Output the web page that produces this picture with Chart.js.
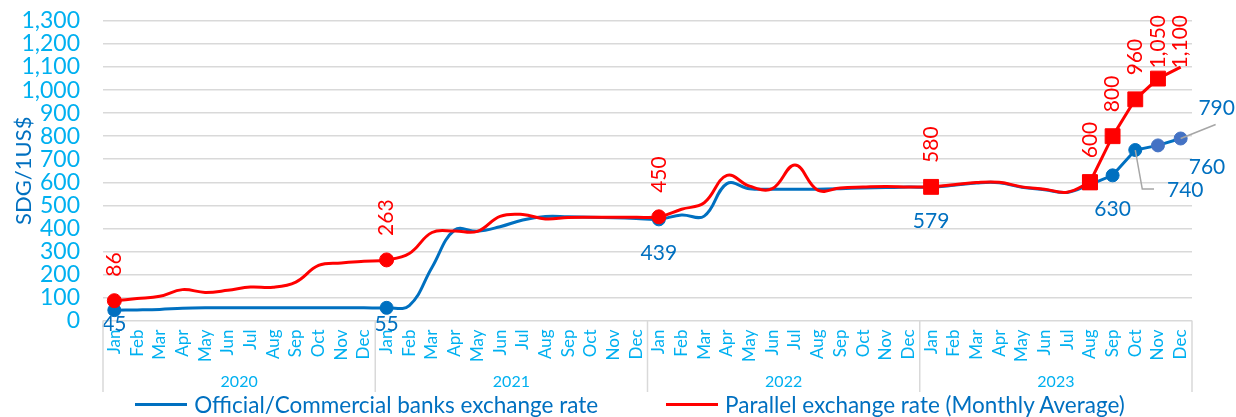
<!DOCTYPE html>
<html>
<head>
<meta charset="utf-8">
<script src="https://cdn.jsdelivr.net/npm/chart.js@4.4.1/dist/chart.umd.min.js"></script>
<style>
  html, body { margin: 0; padding: 0; background: #fff; }
  #wrap { width: 1236px; height: 417px; position: relative; }
  #legend {
    position: absolute; left: 0; top: 392px; width: 1236px; height: 25px;
    display: flex; justify-content: center; align-items: center;
    font-family: Lato, sans-serif; font-size: 22.5px; color: #0070C0;
    padding-left: 24px; box-sizing: border-box;
  }
  .lg-item { display: flex; align-items: center; margin: 0 34px; white-space: nowrap; }
  .lg-line { width: 52px; height: 3px; margin-right: 7px; }
</style>
</head>
<body>
<div id="wrap">
  <canvas id="fxChart" width="1236" height="392"></canvas>
  <div id="legend"></div>
</div>
<script>
/* ── Data ───────────────────────────────────────────────────── */

const years  = ["2020", "2021", "2022", "2023"];
const months = ["Jan", "Feb", "Mar", "Apr", "May", "Jun", "Jul", "Aug", "Sep", "Oct", "Nov", "Dec"];
const yTicks = [0, 100, 200, 300, 400, 500, 600, 700, 800, 900, 1000, 1100, 1200, 1300];

const seriesNames = ["Official/Commercial banks exchange rate", "Parallel exchange rate (Monthly Average)"];

// SDG per 1 US$, Jan 2020 .. Dec 2023
const official = [
  45, 46, 48, 53, 55, 55, 55, 55, 55, 55, 55, 55,
  55, 65, 230, 393, 387, 407, 436, 451, 450, 448, 446, 443,
  439, 458, 453, 594, 572, 570, 570, 570, 572, 575, 577, 579,
  579, 587, 597, 598, 578, 568, 556, 590, 630, 740, 760, 790,
];
const parallel = [
  86, 95, 105, 134, 122, 131, 145, 144, 167, 239, 250, 257,
  263, 291, 382, 388, 387, 452, 460, 441, 447, 448, 448, 448,
  450, 483, 511, 630, 583, 572, 675, 566, 575, 579, 582, 580,
  580, 589, 599, 600, 580, 570, 557, 600, 800, 960, 1050, 1100,
];

// month index where the smoothed line stops and the straight segment starts
const straightFrom = 43;

const officialMarked  = [0, 12, 24, 36, 44, 45, 46, 47];
const parallelMarked  = [0, 12, 24, 36, 43, 44, 45, 46];
const officialLabeled = [0, 12, 24, 36, 44, 45, 46, 47];
const parallelLabeled = [0, 12, 24, 36, 43, 44, 45, 46, 47];

/* ── Styling ────────────────────────────────────────────────── */

const BLUE = "#0070C0";
const BLUE_LIGHT = "#4472C4";
const RED = "#FF0000";
const TICK = "#00B0F0";
const GRID = "#D9D9D9";
const FONT = "Lato, sans-serif";

const categories = [];
years.forEach(() => months.forEach(m => categories.push(m)));

// label placement overrides for the crowded end of the official series
const officialLabelPos = {
  45: { dx: 50, dy: 40, leader: "elbow" },
  46: { dx: 49, dy: 22 },
  47: { dx: 36, dy: -30, leader: "straight" },
};

function head(arr) { return arr.map((v, i) => (i <= straightFrom ? v : null)); }
function tail(arr) { return arr.map((v, i) => (i >= straightFrom ? v : null)); }

function fmt(v) { return v.toLocaleString("en-US"); }

/* ── Plugins ────────────────────────────────────────────────── */

const yearAxisPlugin = {
  id: "yearAxis",
  afterDraw(chart) {
    const { ctx, chartArea } = chart;
    const x = chart.scales.x;
    const bottom = 392;
    const edges = [chartArea.left];
    for (let k = 1; k < years.length; k++) {
      edges.push((x.getPixelForValue(12 * k - 1) + x.getPixelForValue(12 * k)) / 2);
    }
    edges.push(chartArea.right);

    ctx.save();
    ctx.strokeStyle = GRID;
    ctx.lineWidth = 1.5;
    edges.forEach(ex => {
      ctx.beginPath();
      ctx.moveTo(ex, chartArea.bottom);
      ctx.lineTo(ex, bottom);
      ctx.stroke();
    });
    ctx.fillStyle = TICK;
    ctx.font = `16px ${FONT}`;
    ctx.textAlign = "center";
    ctx.textBaseline = "middle";
    years.forEach((yr, k) => ctx.fillText(yr, (edges[k] + edges[k + 1]) / 2, 382));
    ctx.restore();
  },
};

const valueLabelPlugin = {
  id: "valueLabels",
  afterDatasetsDraw(chart) {
    const { ctx, chartArea } = chart;
    const xs = chart.scales.x, ys = chart.scales.y;
    ctx.save();
    ctx.font = `21px ${FONT}`;

    // parallel: vertical text above the point
    ctx.fillStyle = RED;
    ctx.textAlign = "left";
    ctx.textBaseline = "middle";
    parallelLabeled.forEach(i => {
      const px = xs.getPixelForValue(i), py = ys.getPixelForValue(parallel[i]);
      const txt = fmt(parallel[i]);
      const w = ctx.measureText(txt).width;
      let start = py - 24;
      if (start - w < chartArea.top - 6) start = chartArea.top - 6 + w;
      ctx.save();
      ctx.translate(px, start);
      ctx.rotate(-Math.PI / 2);
      ctx.fillText(txt, 0, 0);
      ctx.restore();
    });

    // official: horizontal text below the point
    ctx.fillStyle = BLUE;
    ctx.textAlign = "center";
    officialLabeled.forEach(i => {
      const px = xs.getPixelForValue(i), py = ys.getPixelForValue(official[i]);
      const txt = fmt(official[i]);
      const pos = officialLabelPos[i];
      let lx = px, ly = Math.min(py + 34, chartArea.bottom + 4);
      if (pos) { lx = px + pos.dx; ly = py + pos.dy; }
      if (pos && pos.leader) {
        const w = ctx.measureText(txt).width;
        ctx.strokeStyle = "#A6A6A6";
        ctx.lineWidth = 1.5;
        ctx.beginPath();
        ctx.moveTo(px, py);
        if (pos.leader === "elbow") {
          ctx.lineTo(px + 7, ly - 1);
          ctx.lineTo(lx - w / 2 - 13, ly - 1);
        } else {
          ctx.lineTo(lx - 1, ly + 16);
        }
        ctx.stroke();
      }
      ctx.fillText(txt, lx, ly);
    });
    ctx.restore();
  },
};

/* ── Chart ──────────────────────────────────────────────────── */

// circles for the early markers, squares from Jan 2023 on
function parallelStyle(c) { return c.dataIndex >= 36 ? "rect" : "circle"; }
function parallelRadius(c) {
  if (!parallelMarked.includes(c.dataIndex)) return 0;
  return c.dataIndex >= 36 ? 10.5 : 7;
}
function officialRadius(c) { return officialMarked.includes(c.dataIndex) ? 6.5 : 0; }

const ctx = document.getElementById("fxChart");

new Chart(ctx, {
  type: "line",
  data: {
    labels: categories,
    datasets: [
      {
        label: seriesNames[1],
        data: head(parallel),
        borderColor: RED, backgroundColor: RED, borderWidth: 3,
        tension: 0.4, order: 0,
        pointRadius: parallelRadius, pointStyle: parallelStyle,
        pointBackgroundColor: RED, pointBorderColor: RED, pointBorderWidth: 1,
      },
      {
        label: seriesNames[1] + " (tail)",
        data: tail(parallel),
        borderColor: RED, backgroundColor: RED, borderWidth: 3,
        tension: 0, order: 1,
        pointRadius: parallelRadius, pointStyle: parallelStyle,
        pointBackgroundColor: RED, pointBorderColor: RED, pointBorderWidth: 1,
      },
      {
        label: seriesNames[0],
        data: head(official),
        borderColor: BLUE, backgroundColor: BLUE, borderWidth: 3,
        tension: 0.4, order: 2,
        pointRadius: officialRadius,
        pointBackgroundColor: BLUE, pointBorderColor: BLUE, pointBorderWidth: 1,
      },
      {
        label: seriesNames[0] + " (tail)",
        data: tail(official),
        borderColor: BLUE, backgroundColor: BLUE, borderWidth: 3,
        tension: 0, order: 3,
        pointRadius: officialRadius,
        pointBackgroundColor: c => (c.dataIndex >= 46 ? BLUE_LIGHT : BLUE),
        pointBorderColor: c => (c.dataIndex >= 46 ? BLUE_LIGHT : BLUE),
        pointBorderWidth: 1,
      },
    ],
  },
  options: {
    responsive: false,
    animation: false,
    layout: { padding: { top: 21, right: 44, left: 0, bottom: 0 } },
    plugins: { legend: { display: false }, tooltip: { enabled: false } },
    scales: {
      x: {
        offset: true,
        grid: { display: false, drawTicks: false },
        border: { display: false },
        ticks: {
          autoSkip: false, maxRotation: 90, minRotation: 90, padding: 9,
          color: TICK, font: { family: FONT, size: 17 },
        },
        afterFit(scale) { scale.height = 71.5; },
      },
      y: {
        min: yTicks[0],
        max: yTicks[yTicks.length - 1],
        afterBuildTicks(scale) { scale.ticks = yTicks.map(v => ({ value: v })); },
        grid: { color: GRID, lineWidth: 1.5, drawTicks: false },
        border: { display: false },
        ticks: {
          autoSkip: false, padding: 23, color: TICK, font: { family: FONT, size: 23 },
          callback: v => fmt(v),
        },
        title: {
          display: true, text: "SDG/1US$", color: BLUE,
          font: { family: FONT, size: 22 }, padding: { top: 11, bottom: 0 },
        },
        afterFit(scale) {
          scale.width = 103;
          // tick padding should not push the plot area down
          scale.paddingTop = 0;
          scale.paddingBottom = 0;
        },
      },
    },
  },
  plugins: [yearAxisPlugin, valueLabelPlugin],
});

/* ── Legend ─────────────────────────────────────────────────── */

const legend = document.getElementById("legend");
legend.innerHTML = [[seriesNames[0], BLUE], [seriesNames[1], RED]].map(([name, col]) =>
  `<div class="lg-item"><span class="lg-line" style="background:${col}"></span>${name}</div>`
).join("");
</script>
</body>
</html>
